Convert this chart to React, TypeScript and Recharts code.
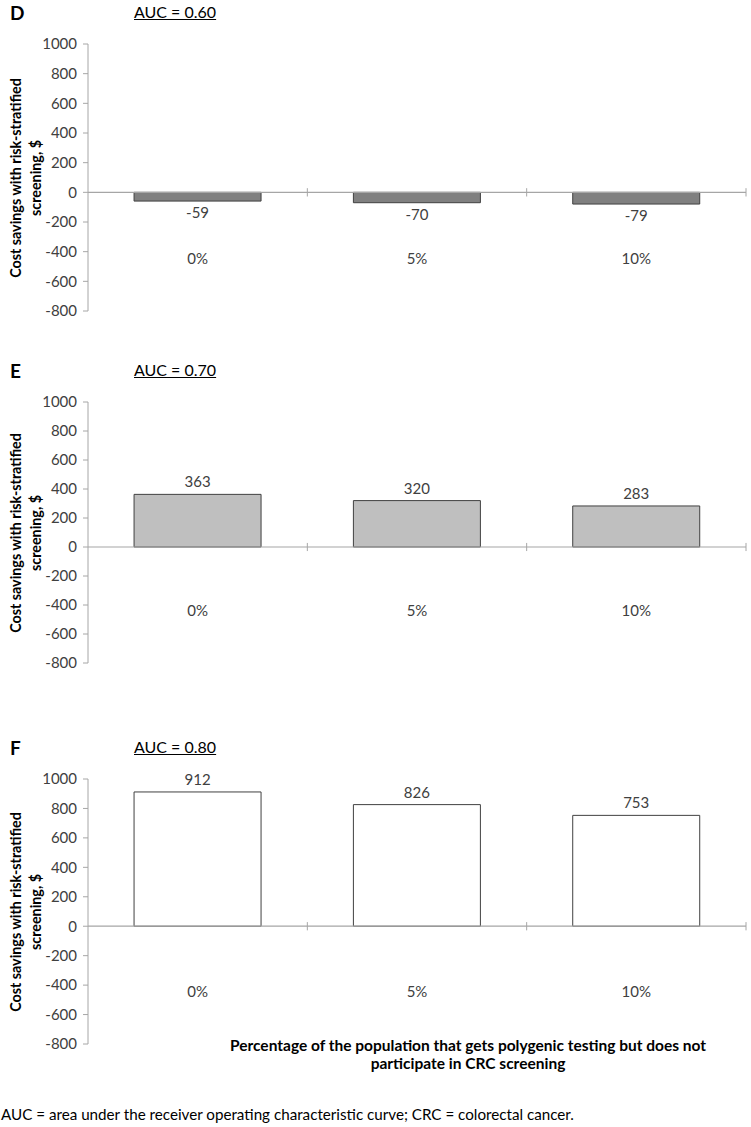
import React from "react";
import {
  Bar,
  BarChart,
  LabelList,
  ReferenceLine,
  XAxis,
  YAxis,
} from "recharts";

const categories = ["0%", "5%", "10%"];
const savingsAuc060 = [-59, -70, -79];
const savingsAuc070 = [363, 320, 283];
const savingsAuc080 = [912, 826, 753];
const yTicks = [-800, -600, -400, -200, 0, 200, 400, 600, 800, 1000];
// category band edges on a 0..3 frame axis, one per boundary tick
const bandEdges = [1, 2, 3];

const FONT = "Lato, 'Open Sans', sans-serif";
const TEXT = "#404040";
const AXIS = "#a6a6a6";

type PanelProps = {
  letter: string;
  auc: string;
  values: number[];
  fill: string;
  top: number;
  plotTop: number;
  plotBottom: number;
};

const CategoryTick = (props: any) => {
  const { x, y, payload } = props;
  return (
    <text
      x={x}
      y={y - 47}
      textAnchor="middle"
      fontSize={15}
      fontFamily={FONT}
      fill={TEXT}
    >
      {payload.value}
    </text>
  );
};

const ValueLabel = (props: any) => {
  const { x, y, width, height, value } = props;
  const top = Math.min(y, y + height);
  const bottom = Math.max(y, y + height);
  const ty = value < 0 ? bottom + 17 : top - 7;
  return (
    <text
      x={x + width / 2}
      y={ty}
      textAnchor="middle"
      fontSize={15}
      fontFamily={FONT}
      fill={TEXT}
    >
      {value}
    </text>
  );
};

const Panel: React.FC<PanelProps> = ({
  letter,
  auc,
  values,
  fill,
  top,
  plotTop,
  plotBottom,
}) => {
  const height = plotBottom - top + 40;
  const data = categories.map((c, i) => ({
    category: c,
    value: values[i],
    edge: bandEdges[i],
  }));
  return (
    <div style={{ position: "absolute", left: 0, top, width: 751, height }}>
      <div
        style={{
          position: "absolute",
          left: 10,
          top: plotTop - top - 43,
          fontFamily: FONT,
          fontWeight: 700,
          fontSize: 19,
          color: "#000",
        }}
      >
        {letter}
      </div>
      <div
        style={{
          position: "absolute",
          left: 134,
          top: plotTop - top - 42,
          fontFamily: FONT,
          fontSize: 16,
          color: "#000",
          textDecoration: "underline",
        }}
      >
        {auc}
      </div>
      <div
        style={{
          position: "absolute",
          left: 26,
          top: (plotTop + plotBottom) / 2 - top,
          width: 280,
          transform: "translate(-50%, -50%) rotate(-90deg)",
          textAlign: "center",
          fontFamily: FONT,
          fontWeight: 700,
          fontSize: 14.3,
          lineHeight: "20px",
          color: "#000",
          whiteSpace: "nowrap",
        }}
      >
        Cost savings with risk-stratified
        <br />
        screening, $
      </div>
      <BarChart
        width={751}
        height={height}
        data={data}
        margin={{ top: plotTop - top, right: 5, bottom: 10, left: 0 }}
        barCategoryGap="21%"
        style={{ position: "absolute", left: 0, top: 0 }}
      >
        <XAxis
          dataKey="category"
          height={30}
          axisLine={false}
          tickLine={false}
          tickSize={0}
          tickMargin={0}
          tick={<CategoryTick />}
          interval={0}
        />
        <XAxis
          xAxisId="frame"
          dataKey="edge"
          type="number"
          domain={[0, 3]}
          allowDataOverflow
          hide
        />
        <YAxis
          width={88}
          domain={[-800, 1000]}
          ticks={yTicks}
          interval={0}
          stroke={AXIS}
          tickSize={5}
          tickMargin={6}
          tick={{ fill: TEXT, fontSize: 15, fontFamily: FONT }}
          axisLine={{ stroke: AXIS }}
          tickLine={{ stroke: AXIS }}
        />
        <ReferenceLine y={0} stroke={AXIS} strokeWidth={1.2} />
        {bandEdges.map((b) => (
          <ReferenceLine
            key={b}
            xAxisId="frame"
            segment={[
              { x: b, y: -28 },
              { x: b, y: 28 },
            ]}
            stroke={AXIS}
          />
        ))}
        <Bar
          dataKey="value"
          fill={fill}
          stroke="#404040"
          strokeWidth={1}
          isAnimationActive={false}
        >
          <LabelList dataKey="value" content={<ValueLabel />} />
        </Bar>
      </BarChart>
    </div>
  );
};

export default function App() {
  return (
    <div
      style={{
        position: "absolute",
        left: 0,
        top: 0,
        width: 751,
        height: 1127,
        background: "#fff",
        overflow: "hidden",
      }}
    >
      <Panel
        letter="D"
        auc="AUC = 0.60"
        values={savingsAuc060}
        fill="#808080"
        top={0}
        plotTop={44}
        plotBottom={311}
      />
      <Panel
        letter="E"
        auc="AUC = 0.70"
        values={savingsAuc070}
        fill="#bfbfbf"
        top={340}
        plotTop={402}
        plotBottom={663}
      />
      <Panel
        letter="F"
        auc="AUC = 0.80"
        values={savingsAuc080}
        fill="#ffffff"
        top={690}
        plotTop={779}
        plotBottom={1044}
      />
      <div
        style={{
          position: "absolute",
          left: 168,
          width: 600,
          top: 1036,
          textAlign: "center",
          fontFamily: FONT,
          fontWeight: 700,
          fontSize: 15.5,
          lineHeight: "18px",
          color: "#000",
          whiteSpace: "nowrap",
        }}
      >
        Percentage of the population that gets polygenic testing but does not
        <br />
        participate in CRC screening
      </div>
      <div
        style={{
          position: "absolute",
          left: 1,
          top: 1105,
          fontFamily: FONT,
          fontSize: 15.2,
          color: "#000",
          whiteSpace: "nowrap",
        }}
      >
        AUC = area under the receiver operating characteristic curve; CRC =
        colorectal cancer.
      </div>
    </div>
  );
}
